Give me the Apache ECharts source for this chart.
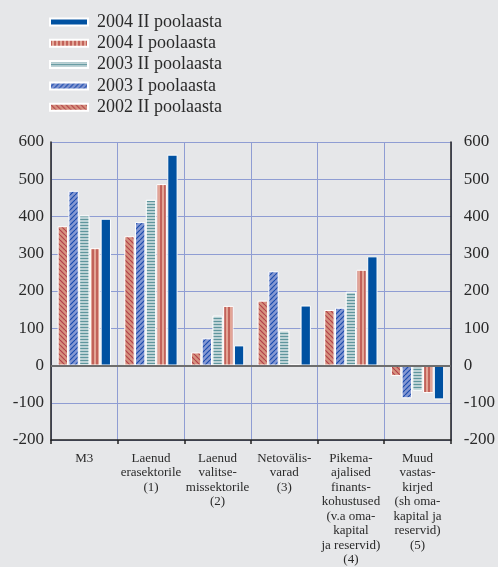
<!DOCTYPE html>
<html>
<head>
<meta charset="utf-8">
<script src="https://cdn.jsdelivr.net/npm/echarts@6/dist/echarts.min.js"></script>
<style>
html,body{margin:0;padding:0;background:#e6e7e9;}
#main{width:498px;height:567px;}
</style>
</head>
<body>
<div id="main"></div>
<script>
var categories = [
    'M3',
    'Laenud\nerasektorile\n(1)',
    'Laenud\nvalitse-\nmissektorile\n(2)',
    'Netovälis-\nvarad\n(3)',
    'Pikema-\najalised\nfinants-\nkohustused\n(v.a oma-\nkapital\nja reservid)\n(4)',
    'Muud\nvastas-\nkirjed\n(sh oma-\nkapital ja\nreservid)\n(5)'
];
var v2002_2 = [374, 347, 35, 174, 149, -28];
var v2003_1 = [469, 385, 73, 253, 155, -88];
var v2003_2 = [403, 445, 134, 94, 198, -68];
var v2004_1 = [315, 487, 160, 3, 257, -74];
var v2004_2 = [394, 566, 54, 161, 293, -91];
var legendNames = ['2004 II poolaasta', '2004 I poolaasta', '2003 II poolaasta', '2003 I poolaasta', '2002 II poolaasta'];
var yTicks = [-200, 600, 100];

var serif = 'Liberation Serif';

// small repeating tiles for the hatched fills
function tile(size, bg, fg, kind, lw){
    var c = document.createElement('canvas');
    c.width = size;
    c.height = size;
    var ctx = c.getContext('2d');
    ctx.fillStyle = bg;
    ctx.fillRect(0, 0, size, size);
    ctx.fillStyle = fg;
    ctx.strokeStyle = fg;
    if(kind == 'h'){
        ctx.fillRect(0, 0, size, lw);
    }else if(kind == 'v'){
        ctx.fillRect(0, 0, lw, size);
    }else{
        ctx.lineWidth = lw;
        for(var k = -1; k <= 1; k++){
            ctx.beginPath();
            if(kind == 'back'){
                ctx.moveTo(k * size, 0);
                ctx.lineTo(k * size + size, size);
            }else{
                ctx.moveTo(k * size, size);
                ctx.lineTo(k * size + size, 0);
            }
            ctx.stroke();
        }
    }
    return {image: c, repeat: 'repeat'};
}

function bar(name, data, color){
    return {
        name: name,
        type: 'bar',
        data: data,
        barGap: '4%',
        barCategoryGap: '20%',
        itemStyle: {
            color: color,
            borderColor: '#ffffff',
            borderWidth: 1
        }
    };
}

var series = [
    bar('2002 II poolaasta', v2002_2, tile(5, '#d6937f', '#b3404a', 'back', 1.2)),
    bar('2003 I poolaasta', v2003_1, tile(5, '#8598d2', '#1c4cae', 'fwd', 1.2)),
    bar('2003 II poolaasta', v2003_2, tile(3, '#bcd2d5', '#5f969d', 'h', 1)),
    bar('2004 I poolaasta', v2004_1, tile(4, '#e2a596', '#c2625a', 'v', 2)),
    bar('2004 II poolaasta', v2004_2, '#0051a1')
];

// zero line
series[0].markLine = {
    silent: true,
    symbol: 'none',
    label: {show: false},
    lineStyle: {color: '#6e6e6e', width: 2, type: 'solid'},
    data: [{yAxis: 0}]
};

var chart = echarts.init(document.getElementById('main'));
var option = {
    backgroundColor: '#e6e7e9',
    animation: false,
    legend: {
        orient: 'vertical',
        left: 44,
        top: 8,
        itemWidth: 38,
        itemHeight: 7,
        itemGap: 3.3,
        icon: 'rect',
        data: legendNames,
        textStyle: {
            fontFamily: serif,
            fontSize: 18,
            color: '#2a2a2a',
            padding: [0, 0, 0, 4]
        }
    },
    grid: {
        left: 51,
        right: 44,
        top: 142,
        bottom: 124
    },
    xAxis: {
        type: 'category',
        data: categories,
        axisLine: {onZero: false, lineStyle: {color: '#222', width: 1.5}},
        axisTick: {show: true, length: 4, lineStyle: {color: '#222', width: 1.5}},
        splitLine: {show: true, lineStyle: {color: '#8f9dd3', width: 1}},
        axisLabel: {
            interval: 0,
            margin: 11,
            fontFamily: serif,
            fontSize: 13,
            lineHeight: 14.5,
            color: '#2a2a2a'
        }
    },
    yAxis: [
        {
            type: 'value',
            min: yTicks[0],
            max: yTicks[1],
            interval: yTicks[2],
            position: 'left',
            axisLine: {show: true, lineStyle: {color: '#222', width: 1.5}},
            axisTick: {show: false},
            splitLine: {show: true, lineStyle: {color: '#8f9dd3', width: 1}},
            axisLabel: {fontFamily: serif, fontSize: 17, color: '#2a2a2a', margin: 7}
        },
        {
            type: 'value',
            min: yTicks[0],
            max: yTicks[1],
            interval: yTicks[2],
            position: 'right',
            axisLine: {show: true, lineStyle: {color: '#222', width: 1.5}},
            axisTick: {show: false},
            splitLine: {show: false},
            axisLabel: {fontFamily: serif, fontSize: 17, color: '#2a2a2a', margin: 13}
        }
    ],
    series: series
};
chart.setOption(option);
</script>
</body>
</html>
